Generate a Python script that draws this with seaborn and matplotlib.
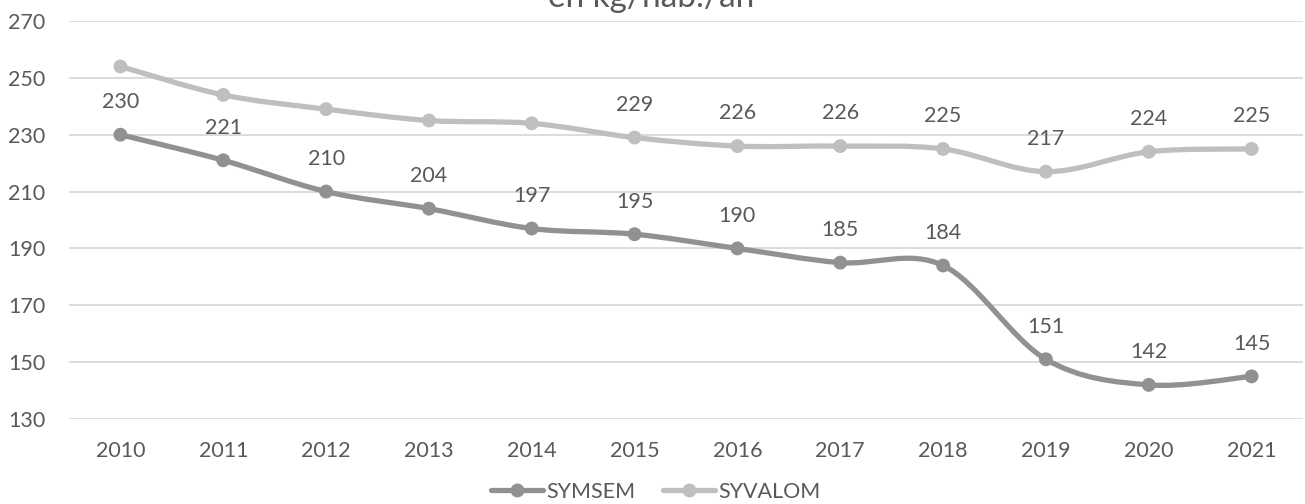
import numpy as np
import matplotlib
matplotlib.use("Agg")
import matplotlib.pyplot as plt
from matplotlib.path import Path
from matplotlib.patches import PathPatch
from matplotlib.lines import Line2D
import seaborn as sns
import pandas as pd

years = ["2010", "2011", "2012", "2013", "2014", "2015",
         "2016", "2017", "2018", "2019", "2020", "2021"]
symsem = [230, 221, 210, 204, 197, 195, 190, 185, 184, 151, 142, 145]
syvalom = [254, 244, 239, 235, 234, 229, 226, 226, 225, 217, 224, 225]
# SYVALOM values are annotated from 2015 onwards only
syvalom_labelled = [False] * 5 + [True] * 7

title = "en kg/hab./an"
yticks = [130, 150, 170, 190, 210, 230, 250, 270]

c_symsem = "#919191"
c_syvalom = "#bfbfbf"
text_color = "#595959"
grid_color = "#d9d9d9"
fs = 15.5

sns.set_theme(style="white")
plt.rcParams["font.family"] = ["Lato", "DejaVu Sans"]

fig = plt.figure(figsize=(13.05, 5.04), dpi=100)
ax = fig.add_axes([69 / 1305, 1 - 419 / 504, 1234 / 1305, 398 / 504])

df = pd.DataFrame({
    "year": list(range(len(years))) * 2,
    "value": symsem + syvalom,
    "series": ["SYMSEM"] * len(years) + ["SYVALOM"] * len(years),
})


def smooth_path(xs, ys):
    """Cubic Bezier path through the points (Catmull-Rom style tangents)."""
    pts = np.column_stack([xs, ys]).astype(float)
    n = len(pts)
    verts = [pts[0]]
    codes = [Path.MOVETO]
    for i in range(n - 1):
        p0 = pts[i - 1] if i > 0 else pts[i]
        p1 = pts[i]
        p2 = pts[i + 1]
        p3 = pts[i + 2] if i + 2 < n else pts[i + 1]
        c1 = p1 + (p2 - p0) / 6.0
        c2 = p2 - (p3 - p1) / 6.0
        verts += [c1, c2, p2]
        codes += [Path.CURVE4] * 3
    return Path(verts, codes)


x = np.arange(len(years))
for vals, col in [(syvalom, c_syvalom), (symsem, c_symsem)]:
    patch = PathPatch(smooth_path(x, vals), facecolor="none", edgecolor=col,
                      lw=3.8, capstyle="round", joinstyle="round", zorder=3)
    ax.add_patch(patch)

sns.scatterplot(data=df, x="year", y="value", hue="series",
                palette={"SYMSEM": c_symsem, "SYVALOM": c_syvalom},
                s=100, edgecolor="none", linewidth=0, ax=ax, zorder=4,
                legend=False)

# data labels above points
for i, v in enumerate(symsem):
    ax.annotate(str(v), (i, v), xytext=(0, 23.5), textcoords="offset points",
                ha="center", va="center", fontsize=fs, color=text_color)
for i, v in enumerate(syvalom):
    if syvalom_labelled[i]:
        ax.annotate(str(v), (i, v), xytext=(0, 23.5), textcoords="offset points",
                    ha="center", va="center", fontsize=fs, color=text_color)

ax.set_xlim(-0.5, len(years) - 0.5)
ax.set_ylim(130, 270)
ax.set_yticks(yticks)
ax.set_xticks(x)
ax.set_xticklabels(years)
ax.tick_params(axis="both", length=0, labelsize=fs, labelcolor=text_color)
ax.tick_params(axis="y", pad=17)
ax.tick_params(axis="x", pad=16)
ax.set_xlabel("")
ax.set_ylabel("")
ax.grid(axis="y", color=grid_color, lw=1.3)
ax.set_axisbelow(True)
for s in ax.spines.values():
    s.set_visible(False)

fig.text(651 / 1305, 1 - 7 / 504, title, ha="center", va="baseline",
         fontsize=24, color=text_color)

handles = [
    Line2D([], [], color=c_symsem, lw=3.8, marker="o", markersize=10,
           markeredgewidth=0),
    Line2D([], [], color=c_syvalom, lw=3.8, marker="o", markersize=10,
           markeredgewidth=0),
]
fig.legend(handles, ["SYMSEM", "SYVALOM"], loc="center",
           bbox_to_anchor=(656 / 1305, 1 - 492 / 504), ncol=2, frameon=False,
           fontsize=fs, labelcolor=text_color, handlelength=2.4,
           handletextpad=0.15, columnspacing=1.3, borderaxespad=0)

fig.savefig("out.png", dpi=100)
